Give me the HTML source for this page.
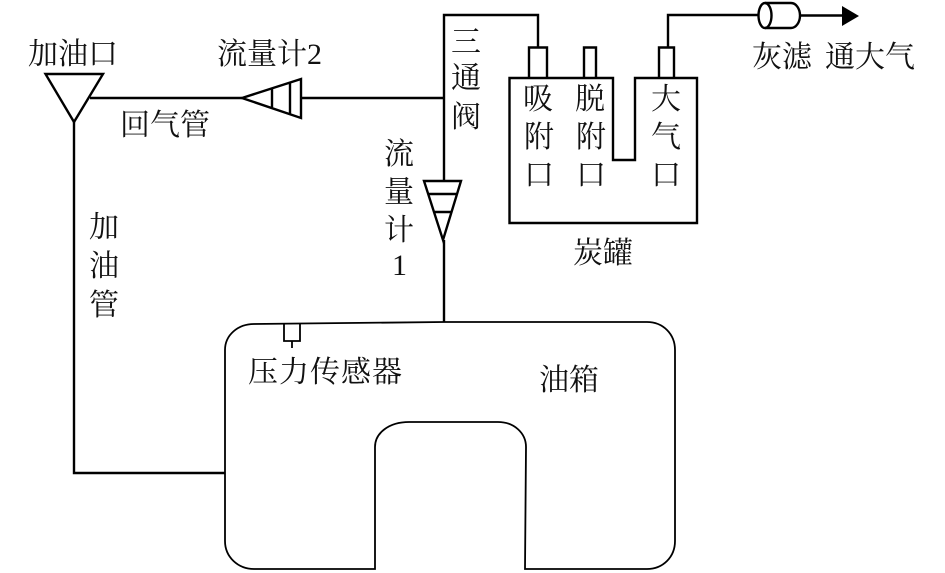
<!DOCTYPE html>
<html><head><meta charset="utf-8"><style>
html,body{margin:0;padding:0;background:#fff}
svg{display:block}
text{font-family:"Liberation Serif","Noto Serif CJK SC",serif;font-size:30px;fill:#111}
.l{fill:none;stroke:#000;stroke-width:2.4}
.t{fill:none;stroke:#000;stroke-width:1.8}
</style></head><body>
<svg width="945" height="573" viewBox="0 0 945 573" xmlns="http://www.w3.org/2000/svg">
<!-- inlet and pipes -->
<path class="l" d="M45.500 74H103L74 122Z"/>
<path class="l" d="M74 122V473H225"/>
<path class="l" d="M90 98H242"/>
<path class="l" d="M242 98L301 79V118Z M272 88.500V108 M290 82.500V114"/>
<path class="l" d="M301 98H444"/>
<path class="l" d="M444 181V15H538V47"/>
<path class="l" d="M424 181H461L443 240Z M428 194H457 M434 212H452"/>
<path class="l" d="M444 240V322"/>
<!-- canister -->
<path class="l" d="M509.500 78H613V160H635V78H697V223H509.500Z"/>
<path class="l" d="M529 78V47.500H547V78 M584 78V47.500H596V78 M659 78V47.500H674V78"/>
<path class="l" d="M668 47V15H758"/>
<!-- filter -->
<path class="l" d="M765 3H791A9 12.500 0 0 1 791 28H765"/>
<ellipse class="l" cx="765" cy="15.500" rx="6.500" ry="12.500"/>
<path class="l" d="M800 15.500H843"/>
<path d="M842 6L859 16L842 26Z" fill="#000"/>
<!-- tank -->
<path class="t" d="M254 324L444 322H647C663 322 675 334 675 350V541C675 557 663 569 647 569H525L526 447C526 433 514 422 498 422H409C389 422 375 433 375 447V569H254C238 569 225 557 225 541V350C225 335 238 324 254 324Z"/>
<path class="t" d="M284 324V341H300V324 M292 341V348"/>
<!-- labels -->
<text x="28" y="64">加油口</text>
<text x="217" y="64">流量计2</text>
<text x="120" y="135">回气管</text>
<text x="451" y="52">三</text>
<text x="451" y="88">通</text>
<text x="451" y="127">阀</text>
<text x="384" y="164">流</text>
<text x="384" y="202">量</text>
<text x="384" y="240">计</text>
<text x="392" y="275">1</text>
<text x="89" y="237">加</text>
<text x="89" y="276">油</text>
<text x="89" y="315">管</text>
<text x="523" y="109">吸</text>
<text x="524" y="147">附</text>
<text x="524" y="185">口</text>
<text x="575" y="109">脱</text>
<text x="576" y="147">附</text>
<text x="576" y="185">口</text>
<text x="651" y="109">大</text>
<text x="651" y="147">气</text>
<text x="651" y="185">口</text>
<text x="573" y="263">炭罐</text>
<text x="752" y="67">灰滤</text>
<text x="825" y="67">通大气</text>
<text x="248" y="382" letter-spacing="1">压力传感器</text>
<text x="539" y="390">油箱</text>
</svg>
</body></html>
